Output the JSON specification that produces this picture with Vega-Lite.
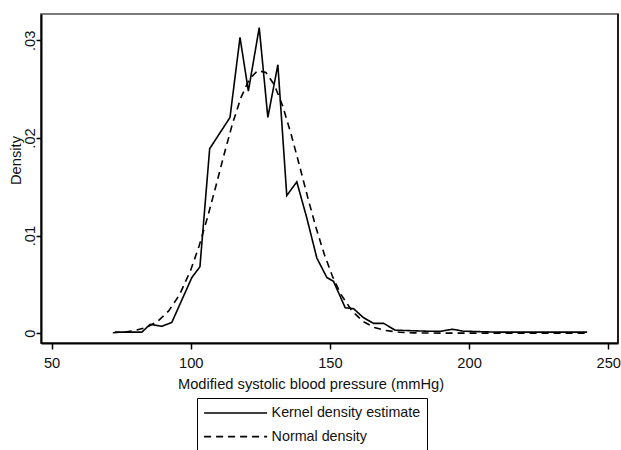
{
  "$schema": "https://vega.github.io/schema/vega-lite/v6.json",
  "width": 577,
  "height": 329,
  "autosize": {"type": "none"},
  "padding": {"left": 41, "top": 14, "right": 3, "bottom": 107},
  "background": "white",
  "config": {
    "font": "Liberation Sans",
    "view": {"stroke": "#7a7a7a", "strokeWidth": 2},
    "axis": {
      "grid": false,
      "domainColor": "black",
      "domainWidth": 2,
      "tickColor": "black",
      "tickWidth": 1.5,
      "labelColor": "#111",
      "titleColor": "#111",
      "labelFont": "Liberation Sans",
      "titleFont": "Liberation Sans",
      "titleFontWeight": "normal",
      "labelFontSize": 14.7,
      "titleFontSize": 14.7
    }
  },
  "layer": [
    {
      "data": {
        "values": [
          {"bp": 72.8, "density": 0.0001, "series": "Kernel density estimate"},
          {"bp": 82.4, "density": 0.0001, "series": "Kernel density estimate"},
          {"bp": 85.4, "density": 0.0009, "series": "Kernel density estimate"},
          {"bp": 89.6, "density": 0.0007, "series": "Kernel density estimate"},
          {"bp": 93.2, "density": 0.0011, "series": "Kernel density estimate"},
          {"bp": 100.4, "density": 0.0057, "series": "Kernel density estimate"},
          {"bp": 103.3, "density": 0.0068, "series": "Kernel density estimate"},
          {"bp": 106.8, "density": 0.0189, "series": "Kernel density estimate"},
          {"bp": 114.1, "density": 0.0221, "series": "Kernel density estimate"},
          {"bp": 117.7, "density": 0.0303, "series": "Kernel density estimate"},
          {"bp": 120.7, "density": 0.0248, "series": "Kernel density estimate"},
          {"bp": 124.6, "density": 0.0313, "series": "Kernel density estimate"},
          {"bp": 127.7, "density": 0.0221, "series": "Kernel density estimate"},
          {"bp": 131.3, "density": 0.0275, "series": "Kernel density estimate"},
          {"bp": 134.5, "density": 0.0141, "series": "Kernel density estimate"},
          {"bp": 138.1, "density": 0.0155, "series": "Kernel density estimate"},
          {"bp": 141.7, "density": 0.0118, "series": "Kernel density estimate"},
          {"bp": 145.3, "density": 0.0077, "series": "Kernel density estimate"},
          {"bp": 148.9, "density": 0.0057, "series": "Kernel density estimate"},
          {"bp": 151.3, "density": 0.0053, "series": "Kernel density estimate"},
          {"bp": 155.5, "density": 0.0026, "series": "Kernel density estimate"},
          {"bp": 158.5, "density": 0.0025, "series": "Kernel density estimate"},
          {"bp": 162.0, "density": 0.0016, "series": "Kernel density estimate"},
          {"bp": 165.7, "density": 0.001, "series": "Kernel density estimate"},
          {"bp": 169.3, "density": 0.001, "series": "Kernel density estimate"},
          {"bp": 173.5, "density": 0.0003, "series": "Kernel density estimate"},
          {"bp": 185.0, "density": 0.0002, "series": "Kernel density estimate"},
          {"bp": 190.0, "density": 0.0002, "series": "Kernel density estimate"},
          {"bp": 194.0, "density": 0.0004, "series": "Kernel density estimate"},
          {"bp": 198.0, "density": 0.0002, "series": "Kernel density estimate"},
          {"bp": 210.0, "density": 0.0001, "series": "Kernel density estimate"},
          {"bp": 242.4, "density": 0.0001, "series": "Kernel density estimate"},
          {"bp": 72, "density": 0.00004, "series": "Normal density"},
          {"bp": 76, "density": 0.00011, "series": "Normal density"},
          {"bp": 80, "density": 0.00027, "series": "Normal density"},
          {"bp": 84, "density": 0.00058, "series": "Normal density"},
          {"bp": 88, "density": 0.00118, "series": "Normal density"},
          {"bp": 92, "density": 0.00225, "series": "Normal density"},
          {"bp": 96, "density": 0.00395, "series": "Normal density"},
          {"bp": 100, "density": 0.00647, "series": "Normal density"},
          {"bp": 103, "density": 0.00893, "series": "Normal density"},
          {"bp": 106, "density": 0.01183, "series": "Normal density"},
          {"bp": 109, "density": 0.01503, "series": "Normal density"},
          {"bp": 112, "density": 0.01833, "series": "Normal density"},
          {"bp": 115, "density": 0.02146, "series": "Normal density"},
          {"bp": 118, "density": 0.02411, "series": "Normal density"},
          {"bp": 121, "density": 0.02599, "series": "Normal density"},
          {"bp": 124, "density": 0.0269, "series": "Normal density"},
          {"bp": 127, "density": 0.02671, "series": "Normal density"},
          {"bp": 130, "density": 0.02546, "series": "Normal density"},
          {"bp": 133, "density": 0.0233, "series": "Normal density"},
          {"bp": 136, "density": 0.02045, "series": "Normal density"},
          {"bp": 139, "density": 0.01724, "series": "Normal density"},
          {"bp": 142, "density": 0.01394, "series": "Normal density"},
          {"bp": 145, "density": 0.01082, "series": "Normal density"},
          {"bp": 148, "density": 0.00806, "series": "Normal density"},
          {"bp": 151, "density": 0.00576, "series": "Normal density"},
          {"bp": 154, "density": 0.00395, "series": "Normal density"},
          {"bp": 158, "density": 0.00225, "series": "Normal density"},
          {"bp": 162, "density": 0.00118, "series": "Normal density"},
          {"bp": 166, "density": 0.00058, "series": "Normal density"},
          {"bp": 170, "density": 0.00027, "series": "Normal density"},
          {"bp": 175, "density": 0.00009, "series": "Normal density"},
          {"bp": 180, "density": 0.00003, "series": "Normal density"},
          {"bp": 190, "density": 0.0, "series": "Normal density"},
          {"bp": 210, "density": 0.0, "series": "Normal density"},
          {"bp": 242, "density": 0.0, "series": "Normal density"}
        ]
      },
      "mark": {"type": "line", "color": "black", "strokeWidth": 1.6},
      "encoding": {
        "x": {
          "field": "bp",
          "type": "quantitative",
          "scale": {"domain": [46.2, 253.5], "nice": false, "zero": false},
          "axis": {
            "values": [50, 100, 150, 200, 250],
            "tickSize": 6,
            "labelPadding": 6,
            "labelFlush": false,
            "title": "Modified systolic blood pressure (mmHg)",
            "titleX": 269.5,
            "titleY": 33,
            "titleAlign": "center",
            "titleBaseline": "top"
          }
        },
        "y": {
          "field": "density",
          "type": "quantitative",
          "scale": {"domain": [-0.00101, 0.0327], "nice": false, "zero": false},
          "axis": {
            "values": [0, 0.01, 0.02, 0.03],
            "tickSize": 5,
            "labelAngle": -90,
            "labelAlign": "center",
            "labelBaseline": "alphabetic",
            "labelPadding": 2,
            "labelFlush": false,
            "labelExpr": "datum.value == 0 ? '0' : replace(format(datum.value, '.2f'), '0.', '.')",
            "title": "Density",
            "titleX": -21,
            "titleY": 146,
            "titleAlign": "center",
            "titleBaseline": "alphabetic"
          }
        },
        "strokeDash": {
          "field": "series",
          "type": "nominal",
          "scale": {
            "domain": ["Kernel density estimate", "Normal density"],
            "range": [[1, 0], [7, 5]]
          },
          "legend": {
            "orient": "none",
            "legendX": 156,
            "legendY": 384,
            "title": " ",
            "titleOrient": "bottom",
            "titleFontSize": 14,
            "titlePadding": 4,
            "symbolType": "M-4,0H4",
            "symbolSize": 248,
            "symbolOffset": 23.6,
            "symbolStrokeWidth": 1.6,
            "symbolStrokeColor": "black",
            "labelFontSize": 14.3,
            "labelColor": "#111",
            "labelOffset": 27,
            "strokeColor": "black",
            "fillColor": "white",
            "padding": 6,
            "rowPadding": 6.6
          }
        }
      }
    },
    {
      "data": {"values": [{}]},
      "mark": {"type": "rule", "color": "black", "strokeWidth": 1.5},
      "encoding": {"x": {"datum": 253.5}}
    }
  ]
}
